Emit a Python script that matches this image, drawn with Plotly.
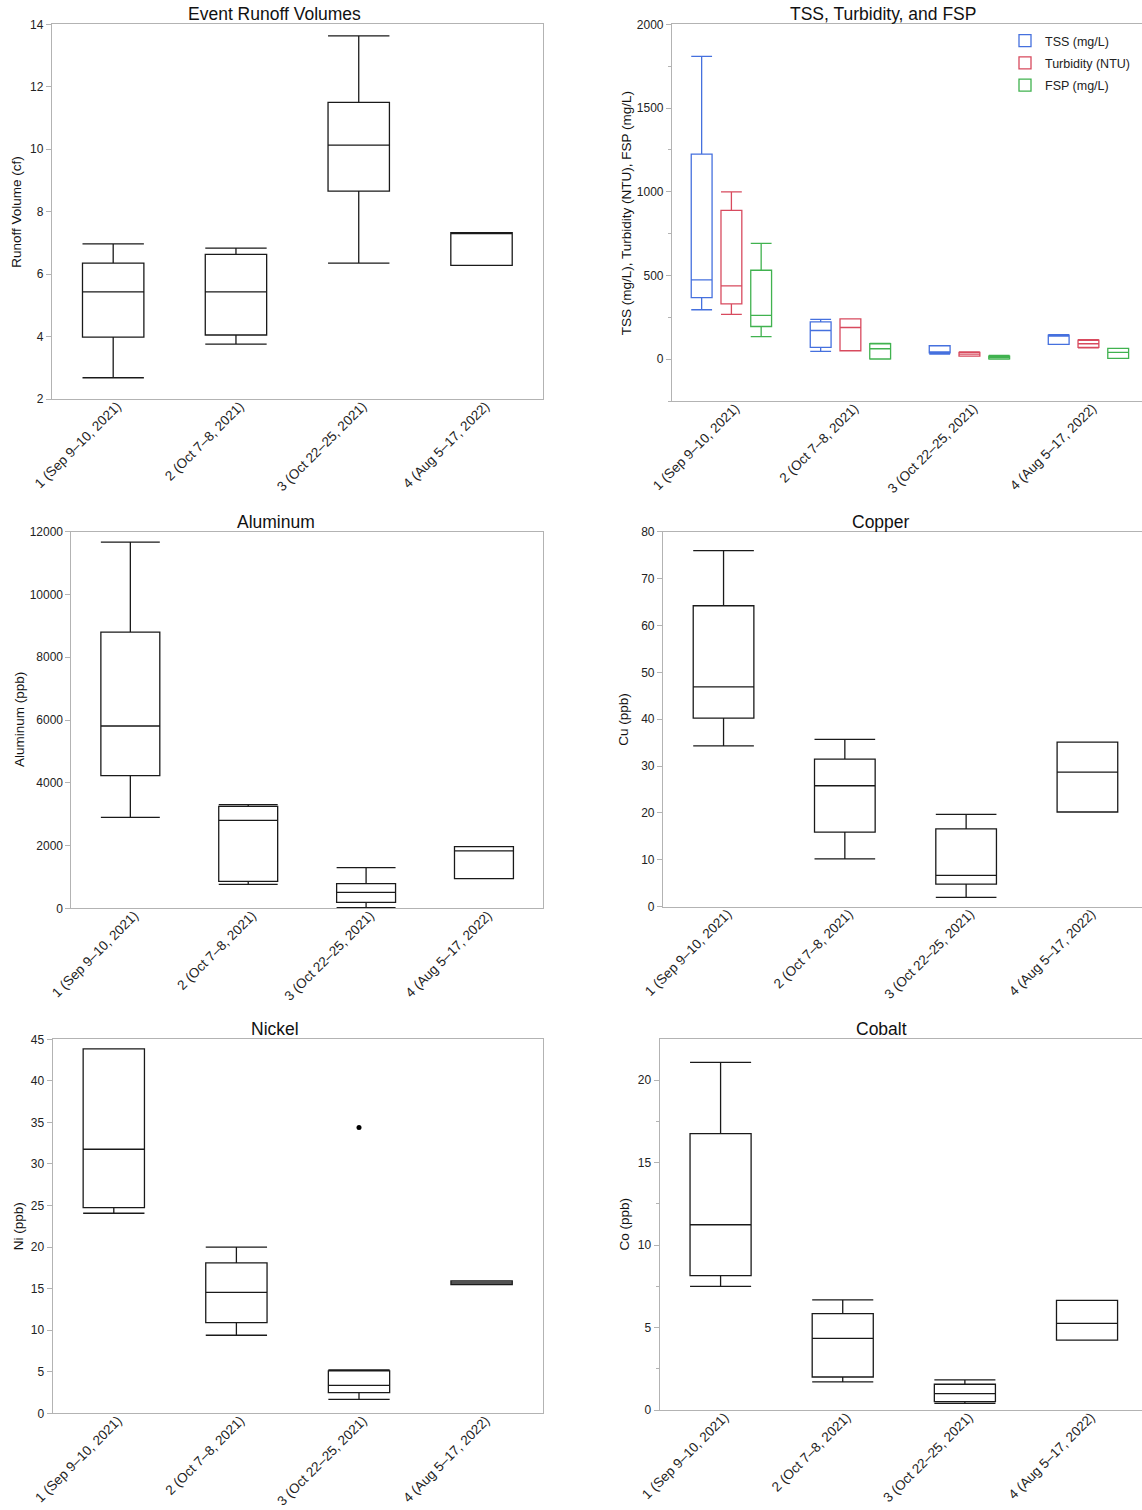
import plotly.graph_objects as go

W, H = 1142, 1510
FONT = "Liberation Sans, Arial, Helvetica, sans-serif"

categories = ["1 (Sep 9–10, 2021)", "2 (Oct 7–8, 2021)", "3 (Oct 22–25, 2021)", "4 (Aug 5–17, 2022)"]

# Event runoff volumes (cf)
runoff_q1 = [3.98, 4.05, 8.66, 6.28]
runoff_med = [5.43, 5.43, 10.13, 7.30]
runoff_q3 = [6.35, 6.63, 11.50, 7.33]
runoff_lo = [2.68, 3.76, 6.35, 6.28]
runoff_hi = [6.97, 6.83, 13.63, 7.33]

# TSS (mg/L)
tss_q1 = [368, 70, 38, 88]
tss_med = [474, 171, 44, 141]
tss_q3 = [1224, 223, 80, 143]
tss_lo = [295, 46, 30, 88]
tss_hi = [1809, 237, 80, 147]

# Turbidity (NTU)
turb_q1 = [330, 50, 18, 70]
turb_med = [438, 189, 30, 92]
turb_q3 = [888, 241, 40, 113]
turb_lo = [267, 50, 18, 68]
turb_hi = [999, 241, 44, 117]

# FSP (mg/L)
fsp_q1 = [195, 2, 2, 4]
fsp_med = [261, 62, 10, 40]
fsp_q3 = [531, 92, 18, 64]
fsp_lo = [135, 0, 0, 4]
fsp_hi = [691, 94, 22, 64]

# Aluminum (ppb)
al_q1 = [4226, 860, 191, 945]
al_med = [5809, 2803, 510, 1827]
al_q3 = [8803, 3250, 786, 1965]
al_lo = [2899, 765, 21, 945]
al_hi = [11671, 3303, 1296, 1965]

# Copper (ppb)
cu_q1 = [40.25, 15.9, 4.8, 20.2]
cu_med = [46.9, 25.8, 6.7, 28.7]
cu_q3 = [64.2, 31.5, 16.6, 35.1]
cu_lo = [34.3, 10.2, 2.0, 20.2]
cu_hi = [75.95, 35.7, 19.7, 35.1]

# Nickel (ppb)
ni_q1 = [24.75, 10.9, 2.49, 15.5]
ni_med = [31.77, 14.56, 3.37, 15.7]
ni_q3 = [43.84, 18.1, 5.1, 15.92]
ni_lo = [24.07, 9.39, 1.68, 15.5]
ni_hi = [43.84, 20.0, 5.21, 15.92]
ni_outlier_cat = [categories[2]]
ni_outlier_val = [34.4]

# Cobalt (ppb)
co_q1 = [8.14, 2.0, 0.51, 4.24]
co_med = [11.23, 4.34, 0.99, 5.25]
co_q3 = [16.75, 5.84, 1.56, 6.65]
co_lo = [7.49, 1.70, 0.40, 4.24]
co_hi = [21.07, 6.67, 1.82, 6.65]

BLACK = "#1a1a1a"
AXIS = "#b3b3b3"
BLUE = "#4570de"
RED = "#d84a5e"
GREEN = "#40b24f"

fig = go.Figure()


def add_box(ax, q1, med, q3, lo, hi, color, name=None, width=None, legend=False):
    kw = {}
    if width is not None:
        kw["width"] = width
    sfx = "" if ax == 1 else str(ax)
    fig.add_trace(go.Box(
        x=categories, q1=q1, median=med, q3=q3, lowerfence=lo, upperfence=hi,
        boxpoints=False, whiskerwidth=1,
        fillcolor="rgba(0,0,0,0)", line=dict(color=color, width=1.3),
        name=name or f"panel{ax}", showlegend=legend, hoverinfo="skip",
        alignmentgroup=f"ag{ax}", offsetgroup=name or f"og{ax}",
        legendgroup=name or f"lg{ax}",
        xaxis="x" + sfx, yaxis="y" + sfx,
        **kw))


add_box(1, runoff_q1, runoff_med, runoff_q3, runoff_lo, runoff_hi, BLACK, width=0.5)
add_box(2, tss_q1, tss_med, tss_q3, tss_lo, tss_hi, BLUE, name="TSS (mg/L)", legend=True)
add_box(2, turb_q1, turb_med, turb_q3, turb_lo, turb_hi, RED, name="Turbidity (NTU)", legend=True)
add_box(2, fsp_q1, fsp_med, fsp_q3, fsp_lo, fsp_hi, GREEN, name="FSP (mg/L)", legend=True)
add_box(3, al_q1, al_med, al_q3, al_lo, al_hi, BLACK, width=0.5)
add_box(4, cu_q1, cu_med, cu_q3, cu_lo, cu_hi, BLACK, width=0.5)
add_box(5, ni_q1, ni_med, ni_q3, ni_lo, ni_hi, BLACK, width=0.5)
add_box(6, co_q1, co_med, co_q3, co_lo, co_hi, BLACK, width=0.5)

fig.add_trace(go.Scatter(x=ni_outlier_cat, y=ni_outlier_val, mode="markers",
                         marker=dict(color="black", size=5), showlegend=False,
                         hoverinfo="skip", xaxis="x5", yaxis="y5"))

# pixel geometry: (left, right, top, bottom, x range end, y range, dtick, minor, full frame)
panels = {
    1: (51.8, 542.9, 24.3, 399.0, 3.5, [2, 14], 2, None, True),
    2: (671.9, 1142, 24.3, 401.0, 3.45, [-250, 2000], 500, 250, False),
    3: (71.4, 542.9, 531.7, 908.3, 3.5, [0, 12000], 2000, None, True),
    4: (662.9, 1142, 531.7, 906.7, 3.45, [0, 80], 10, None, False),
    5: (52.5, 542.9, 1039.3, 1413.3, 3.5, [0, 45], 5, None, True),
    6: (659.5, 1142, 1039.3, 1410.0, 3.45, [0, 22.47], 5, 2.5, False),
}

layout = {}
for i, (l, r, t, b, xr, yr, dt, minor, full) in panels.items():
    sx = "xaxis" if i == 1 else f"xaxis{i}"
    sy = "yaxis" if i == 1 else f"yaxis{i}"
    yid = "y" if i == 1 else f"y{i}"
    xid = "x" if i == 1 else f"x{i}"
    layout[sx] = dict(
        domain=[l / W, min(r / W, 1.0)], anchor=yid, type="category",
        categoryorder="array", categoryarray=categories,
        range=[-0.5, xr], showgrid=False, zeroline=False,
        showline=True, linecolor=AXIS, linewidth=1, mirror=True,
        ticks="", tickangle=-45, tickfont=dict(size=13.5, color="#222", family=FONT),
        ticklabelstandoff=-7, ticklabelshift=4,
        fixedrange=True, automargin=False,
    )
    ydict = dict(
        domain=[1 - b / H, 1 - t / H], anchor=xid, range=yr, dtick=dt, tick0=0,
        tickformat="d",
        showgrid=False, zeroline=False, showline=True, linecolor=AXIS, linewidth=1,
        mirror=full, ticks="outside", ticklen=5, tickcolor=AXIS, tickwidth=1,
        tickfont=dict(size=12, color="#222", family=FONT), fixedrange=True, automargin=False,
    )
    if minor:
        ydict["minor"] = dict(dtick=minor, ticks="outside", ticklen=3, tickcolor=AXIS, showgrid=False)
    layout[sy] = ydict

titles = [
    ("Event Runoff Volumes", 274.5, 14),
    ("TSS, Turbidity, and FSP", 882.5, 14),
    ("Aluminum", 275.5, 521.5),
    ("Copper", 881, 521.5),
    ("Nickel", 274.6, 1029),
    ("Cobalt", 881, 1029),
]
ytitles = [
    ("Runoff Volume (cf)", 17, 211.7),
    ("TSS (mg/L), Turbidity (NTU), FSP (mg/L)", 626.5, 212.7),
    ("Aluminum (ppb)", 19, 720),
    ("Cu (ppb)", 623.5, 719.2),
    ("Ni (ppb)", 18, 1226.3),
    ("Co (ppb)", 625, 1224.6),
]
annotations = []
for txt, x, y in titles:
    annotations.append(dict(text=txt, x=x / W, y=1 - y / H, xref="paper", yref="paper",
                            xanchor="center", yanchor="middle", showarrow=False,
                            font=dict(size=17.5, color="#111", family=FONT)))
for txt, x, y in ytitles:
    annotations.append(dict(text=txt, x=x / W, y=1 - y / H, xref="paper", yref="paper",
                            xanchor="center", yanchor="middle", showarrow=False, textangle=-90,
                            font=dict(size=13.5, color="#111", family=FONT)))

fig.update_layout(
    width=W, height=H, margin=dict(l=0, r=0, t=0, b=0, pad=0, autoexpand=False),
    paper_bgcolor="white", plot_bgcolor="white",
    boxmode="group", boxgap=0.25, boxgroupgap=0.3,
    font=dict(family=FONT, color="#222"),
    showlegend=True,
    legend=dict(x=1005 / W, y=1 - 26 / H, xanchor="left", yanchor="top",
                tracegroupgap=3, borderwidth=0,
                bgcolor="rgba(255,255,255,0)", font=dict(size=12.5, color="#222", family=FONT),
                itemclick=False, itemdoubleclick=False),
    annotations=annotations,
    **layout,
)

fig.write_html("out.html", config={"displayModeBar": False},
               post_script="document.body.style.margin='0';document.body.style.overflow='hidden';")
